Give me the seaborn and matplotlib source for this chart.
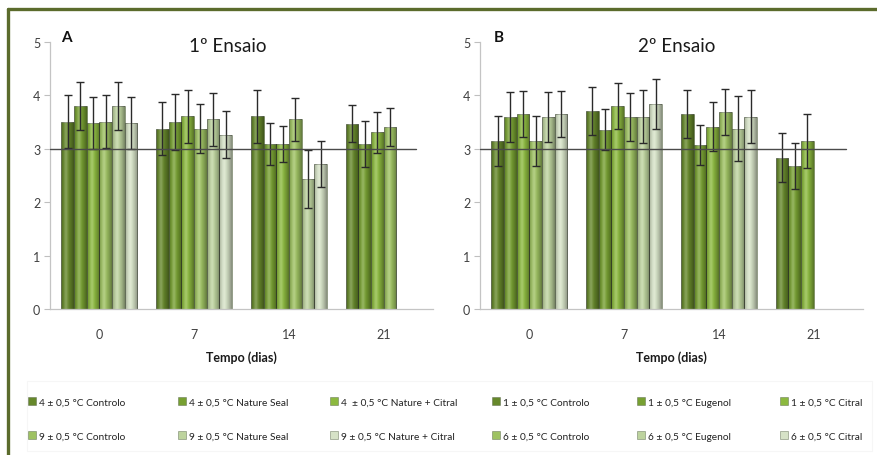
import numpy as np
import pandas as pd
import matplotlib
matplotlib.use("Agg")
import matplotlib.pyplot as plt
from matplotlib.patches import Patch, Rectangle
from matplotlib.lines import Line2D
import seaborn as sns

nan = np.nan

days = ["0", "7", "14", "21"]

# 1º Ensaio series
labels_a = ["4 ± 0,5 °C Controlo", "4 ± 0,5 °C Nature Seal", "4  ± 0,5 °C Nature + Citral",
            "9 ± 0,5 °C Controlo", "9 ± 0,5 °C Nature Seal", "9 ± 0,5 °C Nature + Citral"]
a_4_controlo = [3.51, 3.38, 3.61, 3.47]
a_4_nature_seal = [3.81, 3.50, 3.09, 3.09]
a_4_nature_citral = [3.48, 3.61, 3.09, 3.31]
a_9_controlo = [3.51, 3.38, 3.55, 3.41]
a_9_nature_seal = [3.81, 3.55, 2.43, nan]
a_9_nature_citral = [3.48, 3.26, 2.72, nan]

err_a_4_controlo = [0.50, 0.49, 0.50, 0.35]
err_a_4_nature_seal = [0.45, 0.53, 0.40, 0.43]
err_a_4_nature_citral = [0.49, 0.50, 0.34, 0.38]
err_a_9_controlo = [0.50, 0.46, 0.40, 0.35]
err_a_9_nature_seal = [0.45, 0.50, 0.54, nan]
err_a_9_nature_citral = [0.49, 0.44, 0.43, nan]

# 2º Ensaio series
labels_b = ["1 ± 0,5 °C Controlo", "1 ± 0,5 °C Eugenol", "1 ± 0,5 °C Citral",
            "6 ± 0,5 °C Controlo", "6 ± 0,5 °C Eugenol", "6 ± 0,5 °C Citral"]
b_1_controlo = [3.15, 3.71, 3.66, 2.83]
b_1_eugenol = [3.59, 3.36, 3.07, 2.68]
b_1_citral = [3.65, 3.81, 3.41, 3.15]
b_6_controlo = [3.15, 3.60, 3.69, nan]
b_6_eugenol = [3.59, 3.60, 3.38, nan]
b_6_citral = [3.65, 3.84, 3.60, nan]

err_b_1_controlo = [0.47, 0.45, 0.45, 0.46]
err_b_1_eugenol = [0.47, 0.39, 0.38, 0.43]
err_b_1_citral = [0.43, 0.43, 0.46, 0.51]
err_b_6_controlo = [0.47, 0.45, 0.43, nan]
err_b_6_eugenol = [0.47, 0.50, 0.60, nan]
err_b_6_citral = [0.43, 0.46, 0.50, nan]

reference_score = 3

greens = ["#66882b", "#77a032", "#8cb93f", "#9ec262", "#bdd39e", "#d6e2c7"]

values_a = [a_4_controlo, a_4_nature_seal, a_4_nature_citral,
            a_9_controlo, a_9_nature_seal, a_9_nature_citral]
errors_a = [err_a_4_controlo, err_a_4_nature_seal, err_a_4_nature_citral,
            err_a_9_controlo, err_a_9_nature_seal, err_a_9_nature_citral]
values_b = [b_1_controlo, b_1_eugenol, b_1_citral,
            b_6_controlo, b_6_eugenol, b_6_citral]
errors_b = [err_b_1_controlo, err_b_1_eugenol, err_b_1_citral,
            err_b_6_controlo, err_b_6_eugenol, err_b_6_citral]


def long_table(labels, values, errors):
    rows = []
    for lab, vals, errs in zip(labels, values, errors):
        for d, v, e in zip(days, vals, errs):
            rows.append({"Tempo": d, "Serie": lab, "Valor": v, "Erro": e})
    return pd.DataFrame(rows)


# horizontal shading that gives the bars a rounded, cylinder-like look
_t = np.linspace(0, 1, 64)
_dark = np.zeros((1, 64, 4))
_dark[..., 3] = 0.38 * np.clip(np.abs(_t - 0.42) / 0.58, 0, 1) ** 1.6
_light = np.ones((1, 64, 4))
_light[..., 3] = 0.22 * np.exp(-((_t - 0.38) / 0.16) ** 2)


def shade_bar(ax, bar):
    x0, y0 = bar.get_x(), bar.get_y()
    w, h = bar.get_width(), bar.get_height()
    if not np.isfinite(h) or h == 0:
        return
    for img in (_dark, _light):
        im = ax.imshow(img, extent=[x0, x0 + w, y0, y0 + h], aspect="auto",
                       interpolation="bilinear", zorder=bar.get_zorder() + 0.1)
        im.set_clip_path(bar)


sns.set_theme(style="white")
plt.rcParams["font.family"] = ["Lato", "DejaVu Sans"]

W, H = 878, 456
fig = plt.figure(figsize=(W / 100, H / 100), dpi=100)
fig.patch.set_facecolor("white")

ax_a = fig.add_axes([50 / W, 1 - 310 / H, 383 / W, 267 / H])
ax_b = fig.add_axes([480 / W, 1 - 310 / H, 383 / W, 267 / H])


def draw_panel(ax, labels, values, errors, title, title_x, letter, letter_x):
    df = long_table(labels, values, errors)
    sns.barplot(data=df, x="Tempo", y="Valor", hue="Serie", order=days,
                hue_order=labels, palette=greens, errorbar=None, width=0.8,
                saturation=1, edgecolor=(0.30, 0.35, 0.25, 0.55), linewidth=0.7,
                legend=False, ax=ax)
    # error bars on top of each drawn bar
    for lab, cont in zip(labels, ax.containers):
        sub = df[(df["Serie"] == lab) & df["Valor"].notna()]
        for bar, (_, row) in zip(cont, sub.iterrows()):
            shade_bar(ax, bar)
            xc = bar.get_x() + bar.get_width() / 2
            ax.errorbar(xc, row["Valor"], yerr=row["Erro"], fmt="none",
                        ecolor="#2a2a2a", elinewidth=1.0, capsize=3.2,
                        capthick=1.0, zorder=4)
    ax.axhline(reference_score, xmin=0, xmax=0.955, color="#4a4a4a", lw=1.0, zorder=5)
    ax.set_ylim(0, 5)
    ax.set_xlim(-0.52, 3.52)
    ax.set_yticks([0, 1, 2, 3, 4, 5])
    ax.set_ylabel("")
    ax.set_xlabel("Tempo (dias)", fontsize=9, fontweight="bold", color="#1a1a1a", labelpad=7)
    ax.tick_params(axis="y", which="major", length=4, width=0.8, color="#bfbfbf",
                   labelsize=9, labelcolor="#404040", pad=3, left=True)
    ax.tick_params(axis="x", length=0, labelsize=9, labelcolor="#404040", pad=14)
    for side in ("top", "right"):
        ax.spines[side].set_visible(False)
    for side in ("left", "bottom"):
        ax.spines[side].set_color("#c4c4c4")
        ax.spines[side].set_linewidth(0.9)
    fig.text(title_x / W, 1 - 47 / H, title, ha="center", va="center",
             fontsize=13.5, color="#1a1a1a")
    fig.text(letter_x / W, 1 - 38 / H, letter, ha="left", va="center",
             fontsize=11, fontweight="bold", color="#111111")


draw_panel(ax_a, labels_a, values_a, errors_a, "1º Ensaio", 228, "A", 61)
draw_panel(ax_b, labels_b, values_b, errors_b, "2º Ensaio", 677, "B", 494)

# legend: two rows, six columns
col_x = [28, 178, 330, 492, 637, 780]
row_y = [403, 437]
top_row = labels_a[:3] + labels_b[:3]
bottom_row = labels_a[3:] + labels_b[3:]
top_col = greens[:3] * 2
bottom_col = greens[3:] * 2
for r, (labs, cols) in enumerate([(top_row, top_col), (bottom_row, bottom_col)]):
    for c, (lab, colr) in enumerate(zip(labs, cols)):
        handle = Patch(facecolor=colr, edgecolor=(0.33, 0.38, 0.28, 0.6), linewidth=0.5)
        fig.legend(handles=[handle], labels=[lab], loc="center left",
                   bbox_to_anchor=(col_x[c] / W, 1 - row_y[r] / H),
                   frameon=False, borderpad=0, borderaxespad=0,
                   handlelength=0.75, handleheight=0.75, handletextpad=0.35,
                   fontsize=7.3, labelcolor="#222222")

# faint legend box
fig.add_artist(Rectangle((27 / W, 1 - 452 / H), 845 / W, 70 / H, transform=fig.transFigure,
                         facecolor="none", edgecolor="#f6f6f6", linewidth=0.8))

# olive outer frame
frame_col = "#5b6b2c"
fig.add_artist(Line2D([8 / W, 1], [1 - 10 / H, 1 - 10 / H], transform=fig.transFigure,
                      color=frame_col, linewidth=2.4))
fig.add_artist(Line2D([8 / W, 8 / W], [0, 1 - 10 / H], transform=fig.transFigure,
                      color=frame_col, linewidth=2.4))

fig.savefig("out.png", dpi=100, facecolor="white")
